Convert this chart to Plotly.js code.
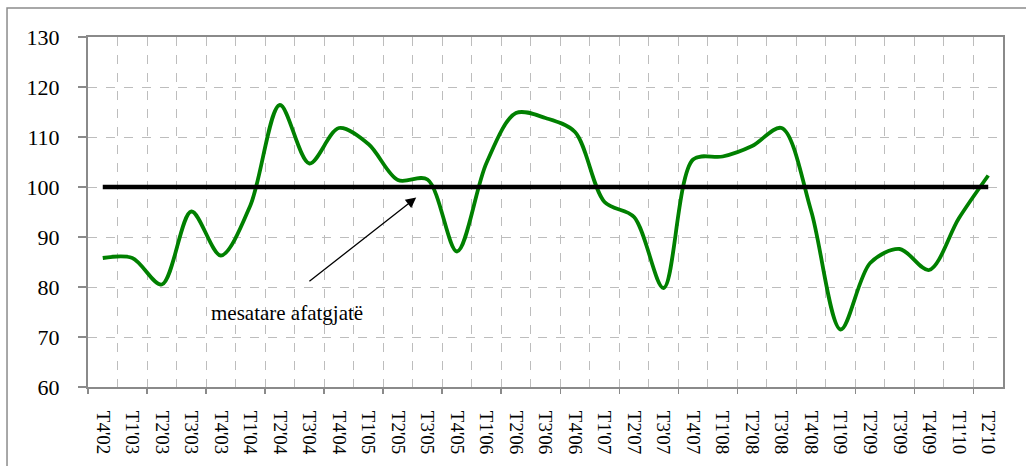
<!DOCTYPE html>
<html>
<head>
<meta charset="utf-8">
<script src="https://cdn.plot.ly/plotly-3.0.1.min.js"></script>
<style>
  body { margin: 0; background: #fff; }
  #chart { width: 1026px; height: 466px; }
</style>
</head>
<body>
<div id="chart"></div>
<script>
// quarters on the x axis
var quarters = ["T4'02", "T1'03", "T2'03", "T3'03", "T4'03", "T1'04", "T2'04", "T3'04",
  "T4'04", "T1'05", "T2'05", "T3'05", "T4'05", "T1'06", "T2'06", "T3'06", "T4'06",
  "T1'07", "T2'07", "T3'07", "T4'07", "T1'08", "T2'08", "T3'08", "T4'08",
  "T1'09", "T2'09", "T3'09", "T4'09", "T1'10", "T2'10"];

// index values
var indexValues = [85.8, 85.8, 80.5, 95.1, 86.3, 96.3, 116.4, 104.7,
  111.8, 108.6, 101.4, 101.5, 87.1, 104.8, 114.8, 113.8, 111.0,
  97.0, 94.0, 79.8, 105.5, 106.1, 108.2, 111.8, 95.2,
  71.5, 84.8, 87.6, 83.4, 93.7, 102.3];

// long-run average
var longRunMean = 100;
var meanLabel = "mesatare afatgjatë";

var yTicks = [60, 70, 80, 90, 100, 110, 120, 130];

var serif = "'Liberation Serif', 'Times New Roman', serif";
var axisGrey = "#8a8a8a";

// tick marks sit on every second category boundary
var tickMarks = [];
for (var b = 0; b <= quarters.length; b += 2) {
  tickMarks.push(b - 0.5);
}

// the mean line runs from the first to the last quarter (drawn on the numeric twin axis)
var meanTrace = {
  x: [0, quarters.length - 1],
  y: [longRunMean, longRunMean],
  xaxis: "x2",
  mode: "lines",
  line: { color: "#000000", width: 4.5 },
  hoverinfo: "skip"
};

var seriesTrace = {
  x: quarters,
  y: indexValues,
  mode: "lines",
  line: { color: "#008000", width: 3.8, shape: "spline", smoothing: 0.9 }
};

var layout = {
  width: 1026,
  height: 466,
  margin: { l: 88, r: 23, t: 37, b: 79 },
  paper_bgcolor: "#ffffff",
  plot_bgcolor: "#ffffff",
  showlegend: false,
  font: { family: serif, color: "#000000", size: 18 },
  xaxis: {
    type: "category",
    categoryorder: "array",
    categoryarray: quarters,
    range: [-0.5, quarters.length - 0.5],
    tickson: "boundaries",
    ticks: "",
    tickangle: 90,
    ticklabelstandoff: 18,
    tickfont: { family: serif, size: 19, color: "#000000" },
    showgrid: true,
    gridcolor: "#bdbdbd",
    griddash: "dash",
    gridwidth: 1,
    showline: true,
    linecolor: axisGrey,
    linewidth: 2,
    mirror: true,
    zeroline: false
  },
  xaxis2: {
    overlaying: "x",
    anchor: "y",
    side: "bottom",
    range: [-0.5, quarters.length - 0.5],
    tickmode: "array",
    tickvals: tickMarks,
    ticks: "outside",
    ticklen: 6,
    tickwidth: 1.5,
    tickcolor: axisGrey,
    showticklabels: false,
    showgrid: false,
    zeroline: false,
    showline: false
  },
  yaxis: {
    range: [60, 130],
    tickmode: "array",
    tickvals: yTicks,
    ticks: "outside",
    ticklen: 8,
    tickwidth: 1.5,
    tickcolor: axisGrey,
    ticklabelstandoff: 14,
    tickfont: { family: serif, size: 22, color: "#000000" },
    showgrid: true,
    gridcolor: "#bdbdbd",
    griddash: "dash",
    gridwidth: 1,
    showline: true,
    linecolor: axisGrey,
    linewidth: 2,
    mirror: true,
    zeroline: false
  },
  annotations: [
    {
      x: 6.25, y: 74.8, xref: "x", yref: "y",
      text: meanLabel,
      showarrow: false,
      font: { family: serif, size: 21, color: "#000000" }
    },
    {
      x: 10.62, y: 97.9, xref: "x", yref: "y",
      ax: 6.95, ay: 80.9, axref: "x", ayref: "y",
      text: "",
      showarrow: true,
      arrowhead: 2,
      arrowsize: 1.6,
      arrowwidth: 1.3,
      arrowcolor: "#000000"
    }
  ],
  shapes: [
    {
      // outer frame of the figure
      type: "rect", xref: "paper", yref: "paper",
      x0: -0.0885, x1: 1.2, y0: -0.5, y1: 1.083,
      line: { color: "#8c8c8c", width: 1.5 },
      layer: "below"
    }
  ]
};

Plotly.newPlot("chart", [seriesTrace, meanTrace], layout, { displayModeBar: false, staticPlot: true });
</script>
</body>
</html>
